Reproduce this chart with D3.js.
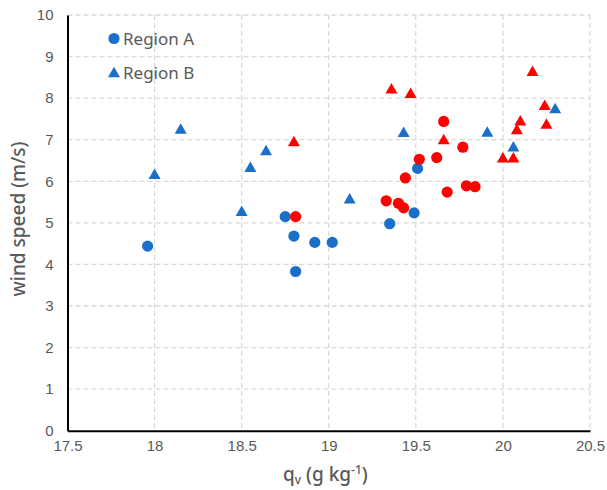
<!DOCTYPE html>
<html><head><meta charset="utf-8">
<script src="https://cdn.jsdelivr.net/npm/d3@7"></script>
<style>body{margin:0;background:#fff;} svg{display:block;}</style>
</head><body>
<svg id="chart" width="607" height="490"></svg>
<script>
// Region A (blue circles)
const regionA_x = [17.96, 18.75, 18.80, 18.81, 18.92, 19.02, 19.35, 19.49, 19.51];
const regionA_y = [4.44, 5.15, 4.68, 3.83, 4.53, 4.53, 4.98, 5.24, 6.31];
// Region B (blue triangles)
const regionB_x = [18.00, 18.15, 18.50, 18.55, 18.64, 19.12, 19.43, 19.91, 20.06, 20.30];
const regionB_y = [6.18, 7.27, 5.29, 6.35, 6.75, 5.59, 7.19, 7.20, 6.84, 7.76];
// highlighted (red) circles
const redCircle_x = [18.81, 19.33, 19.40, 19.43, 19.44, 19.52, 19.62, 19.66, 19.68, 19.77, 19.79, 19.84];
const redCircle_y = [5.15, 5.53, 5.47, 5.36, 6.08, 6.53, 6.57, 7.44, 5.74, 6.82, 5.89, 5.87];
// highlighted (red) triangles
const redTri_x = [18.80, 19.36, 19.47, 19.66, 20.00, 20.06, 20.08, 20.10, 20.17, 20.24, 20.25];
const redTri_y = [6.97, 8.24, 8.13, 7.02, 6.58, 6.58, 7.26, 7.47, 8.66, 7.84, 7.39];

const xTicks = [17.5, 18, 18.5, 19, 19.5, 20, 20.5];
const yTicks = [0,1,2,3,4,5,6,7,8,9,10];
const legendLabels = ["Region A", "Region B"];

const BLUE = "#1a6fc9", RED = "#ff0000";
const svg = d3.select("#chart");
const m = {left: 67.5, top: 15, right: 17, bottom: 59.3};
const W = 607 - m.left - m.right, H = 490 - m.top - m.bottom;
const x = d3.scaleLinear().domain([17.5, 20.5]).range([m.left, m.left + W]);
const y = d3.scaleLinear().domain([0, 10]).range([m.top + H, m.top]);

// gridlines
svg.append("g").selectAll("line").data(xTicks.slice(1)).join("line")
  .attr("x1", d => x(d)).attr("x2", d => x(d)).attr("y1", y(10)).attr("y2", y(0))
  .attr("stroke", "#d9d9d9").attr("stroke-width", 1.3).attr("stroke-dasharray", "5,3");
svg.append("g").selectAll("line").data(yTicks.slice(1)).join("line")
  .attr("x1", x(17.5)).attr("x2", x(20.5)).attr("y1", d => y(d)).attr("y2", d => y(d))
  .attr("stroke", "#d9d9d9").attr("stroke-width", 1.3).attr("stroke-dasharray", "5,3");

// axes
const xAxis = svg.append("g").attr("transform", `translate(0,${y(0)})`)
  .call(d3.axisBottom(x).tickValues(xTicks).tickSize(0).tickPadding(10).tickFormat(d3.format("")));
const yAxis = svg.append("g").attr("transform", `translate(${x(17.5)},0)`)
  .call(d3.axisLeft(y).tickValues(yTicks).tickSize(0).tickPadding(14));
[xAxis, yAxis].forEach(a => {
  a.select(".domain").attr("stroke", "#000").attr("stroke-width", 2);
  a.selectAll("text").attr("fill", "#595959").style("font-family", "Liberation Sans, Arial, sans-serif").style("font-size", "15px");
});

function tri(w, h) { return `M0,${-h/2}L${w/2},${h/2}L${-w/2},${h/2}Z`; }

function circles(xs, ys, col) {
  svg.append("g").selectAll("circle").data(xs.map((v, i) => [v, ys[i]])).join("circle")
    .attr("cx", d => x(d[0])).attr("cy", d => y(d[1])).attr("r", 5.6).attr("fill", col);
}
function triangles(xs, ys, col) {
  svg.append("g").selectAll("path").data(xs.map((v, i) => [v, ys[i]])).join("path")
    .attr("d", tri(12, 10.5)).attr("transform", d => `translate(${x(d[0])},${y(d[1])})`).attr("fill", col);
}
circles(regionA_x, regionA_y, BLUE);
triangles(regionB_x, regionB_y, BLUE);
circles(redCircle_x, redCircle_y, RED);
triangles(redTri_x, redTri_y, RED);

// legend
const lg = svg.append("g").style("font-family", "Noto Sans, Open Sans, sans-serif").style("font-size", "17px").attr("fill", "#595959");
lg.append("circle").attr("cx", 114).attr("cy", 38.5).attr("r", 5.6).attr("fill", BLUE);
lg.append("text").attr("x", 123).attr("y", 45).text(legendLabels[0]);
lg.append("path").attr("d", tri(12, 10.5)).attr("transform", "translate(114,72)").attr("fill", BLUE);
lg.append("text").attr("x", 123).attr("y", 79).text(legendLabels[1]);

// axis titles
const xt = svg.append("text").attr("x", 283).attr("y", 481).attr("fill", "#595959")
  .style("font-family", "Noto Sans, sans-serif").style("font-size", "19px").style("font-weight", 500);
xt.append("tspan").text("q");
xt.append("tspan").attr("dy", 3).style("font-size", "12px").text("v");
xt.append("tspan").attr("dy", -3).text(" (g  kg");
xt.append("tspan").attr("dy", -7).style("font-size", "12px").text("-1");
xt.append("tspan").attr("dy", 7).text(")");

svg.append("text").attr("transform", "translate(25,219) rotate(-90)").attr("text-anchor", "middle")
  .attr("fill", "#595959").style("font-family", "Noto Sans, sans-serif").style("font-size", "19px").style("font-weight", 500)
  .text("wind speed (m/s)");
</script>
</body></html>
